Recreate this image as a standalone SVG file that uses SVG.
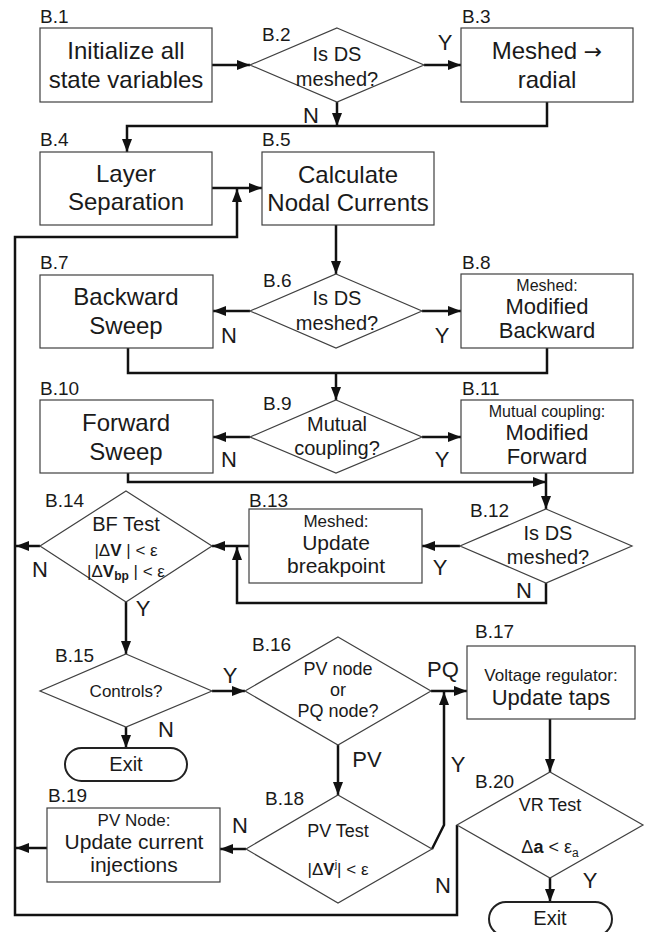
<svg xmlns="http://www.w3.org/2000/svg" width="646" height="932" viewBox="0 0 646 932">
<defs>
<marker id="ah" markerUnits="userSpaceOnUse" markerWidth="13" markerHeight="10" viewBox="0 0 13 10" refX="13" refY="5" orient="auto">
<path d="M0,0 L13,5 L0,10 z" fill="#111"/>
</marker>
</defs>
<style>
text{font-family:"Liberation Sans",Arial,sans-serif;fill:#1a1a1a}
.c{text-anchor:middle}
.box{fill:#fff;stroke:#404040;stroke-width:1.2}
.exit{fill:#fff;stroke:#222;stroke-width:2}
.lbl{font-size:19px}
.t24{font-size:24px}
.t22{font-size:22px}
.t21{font-size:21px}
.t20{font-size:20px}
.t18{font-size:18px}
.t17{font-size:17px}
.t16{font-size:16px}
.yn{font-size:22px}
.conn{fill:none;stroke:#111;stroke-width:2.5}
.arr{marker-end:url(#ah)}
.b{font-weight:bold}
</style>
<rect width="646" height="932" fill="#fff"/>

<g id="connectors">
<path class="conn arr" d="M212,65 H250"/>
<path class="conn arr" d="M424,65 H461"/>
<path class="conn arr" d="M337,102 V126"/>
<path class="conn arr" d="M547,102 V126 H127 V152"/>
<path class="conn arr" d="M212,188 H262"/>
<path class="conn arr" d="M457,825 V915 H15 V237 H237 V189"/>
<path class="conn arr" d="M336,225 V274"/>
<path class="conn arr" d="M250,311 H213"/>
<path class="conn arr" d="M422,311 H461"/>
<path class="conn" d="M128,348 V373 H547 V348"/>
<path class="conn arr" d="M336,373 V400"/>
<path class="conn arr" d="M250,437 H213"/>
<path class="conn arr" d="M422,437 H461"/>
<path class="conn arr" d="M128,473 V482 H546"/>
<path class="conn arr" d="M546,473 V509"/>
<path class="conn arr" d="M460,546 H422"/>
<path class="conn arr" d="M546,583 V603 H237 V547"/>
<path class="conn arr" d="M249,546 H212"/>
<path class="conn arr" d="M40,546 H16"/>
<path class="conn arr" d="M126,602 V654"/>
<path class="conn arr" d="M212,691 H245"/>
<path class="conn arr" d="M126,727 V748"/>
<path class="conn arr" d="M431,691 H467"/>
<path class="conn arr" d="M338,745 V795"/>
<path class="conn arr" d="M432,849 L444,825 V692"/>
<path class="conn arr" d="M246,849 H220"/>
<path class="conn arr" d="M47,848 H16"/>
<path class="conn arr" d="M550,719 V772"/>
<path class="conn arr" d="M550,878 V902"/>
</g>

<g id="B1">
<rect class="box" x="40" y="28" width="172" height="74"/>
<text class="lbl" x="40" y="23">B.1</text>
<text class="t24 c" x="126" y="59">Initialize all</text>
<text class="t24 c" x="126" y="88">state variables</text>
</g>
<g id="B2">
<polygon class="box" points="337,28 424,65 337,102 250,65"/>
<text class="lbl" x="262" y="41">B.2</text>
<text class="t20 c" x="337" y="61">Is DS</text>
<text class="t20 c" x="337" y="86">meshed?</text>
<text class="yn c" x="445" y="50">Y</text>
<text class="yn c" x="311" y="123">N</text>
</g>
<g id="B3">
<rect class="box" x="461" y="28" width="172" height="74"/>
<text class="lbl" x="462" y="23">B.3</text>
<text class="t24 c" x="547" y="59">Meshed <tspan font-family="DejaVu Sans" font-size="22">→</tspan></text>
<text class="t24 c" x="547" y="88">radial</text>
</g>
<g id="B4">
<rect class="box" x="40" y="152" width="172" height="73"/>
<text class="lbl" x="40" y="146">B.4</text>
<text class="t24 c" x="126" y="182">Layer</text>
<text class="t24 c" x="126" y="210">Separation</text>
</g>
<g id="B5">
<rect class="box" x="262" y="152" width="172" height="73"/>
<text class="lbl" x="262" y="146">B.5</text>
<text class="t24 c" x="348" y="183">Calculate</text>
<text class="t24 c" x="348" y="211">Nodal Currents</text>
</g>
<g id="B6">
<polygon class="box" points="336,274 422,311 336,348 250,311"/>
<text class="lbl" x="263" y="287">B.6</text>
<text class="t20 c" x="337" y="305">Is DS</text>
<text class="t20 c" x="337" y="330">meshed?</text>
<text class="yn c" x="229" y="343">N</text>
<text class="yn c" x="442" y="343">Y</text>
</g>
<g id="B7">
<rect class="box" x="40" y="275" width="173" height="73"/>
<text class="lbl" x="40" y="269">B.7</text>
<text class="t24 c" x="126" y="305">Backward</text>
<text class="t24 c" x="126" y="334">Sweep</text>
</g>
<g id="B8">
<rect class="box" x="461" y="274" width="172" height="74"/>
<text class="lbl" x="462" y="269">B.8</text>
<text class="t16 c" x="547" y="291">Meshed:</text>
<text class="t22 c" x="547" y="314">Modified</text>
<text class="t22 c" x="547" y="338">Backward</text>
</g>
<g id="B9">
<polygon class="box" points="336,400 422,437 336,473 250,437"/>
<text class="lbl" x="263" y="410">B.9</text>
<text class="t20 c" x="337" y="431">Mutual</text>
<text class="t20 c" x="337" y="455">coupling?</text>
<text class="yn c" x="229" y="467">N</text>
<text class="yn c" x="442" y="467">Y</text>
</g>
<g id="B10">
<rect class="box" x="40" y="400" width="173" height="73"/>
<text class="lbl" x="40" y="395">B.10</text>
<text class="t24 c" x="126" y="431">Forward</text>
<text class="t24 c" x="126" y="460">Sweep</text>
</g>
<g id="B11">
<rect class="box" x="461" y="400" width="172" height="73"/>
<text class="lbl" x="462" y="395">B.11</text>
<text class="t16 c" x="547" y="417">Mutual coupling:</text>
<text class="t22 c" x="547" y="440">Modified</text>
<text class="t22 c" x="547" y="464">Forward</text>
</g>
<g id="B12">
<polygon class="box" points="546,509 632,546 546,583 460,546"/>
<text class="lbl" x="470" y="517">B.12</text>
<text class="t20 c" x="548" y="540">Is DS</text>
<text class="t20 c" x="548" y="564">meshed?</text>
<text class="yn c" x="440" y="575">Y</text>
<text class="yn c" x="524" y="598">N</text>
</g>
<g id="B13">
<rect class="box" x="249" y="509" width="173" height="74"/>
<text class="lbl" x="249" y="507">B.13</text>
<text class="t17 c" x="336" y="527">Meshed:</text>
<text class="t21 c" x="336" y="550">Update</text>
<text class="t21 c" x="336" y="573">breakpoint</text>
</g>
<g id="B14">
<polygon class="box" points="126,491 212,546 126,602 40,546"/>
<text class="lbl" x="45" y="507">B.14</text>
<text class="t20 c" x="126" y="531">BF Test</text>
<text class="t17 c" x="126" y="556">|Δ<tspan class="b">V</tspan> | &lt; ε</text>
<text class="t17 c" x="126" y="577">|Δ<tspan class="b">V</tspan><tspan class="b" font-size="12" dy="3">bp</tspan><tspan dy="-3"> | &lt; ε</tspan></text>
<text class="yn c" x="40" y="577">N</text>
<text class="yn c" x="143" y="616">Y</text>
</g>
<g id="B15">
<polygon class="box" points="126,654 212,691 126,727 40,691"/>
<text class="lbl" x="55" y="662">B.15</text>
<text class="t17 c" x="126" y="697">Controls?</text>
<text class="yn c" x="230" y="683">Y</text>
<text class="yn c" x="166" y="737">N</text>
</g>
<g id="Exit1">
<rect class="exit" x="65" y="748" width="122" height="33" rx="16.5"/>
<text class="t20 c" x="126" y="771">Exit</text>
</g>
<g id="B16">
<polygon class="box" points="338,637 431,691 338,745 245,691"/>
<text class="lbl" x="252" y="651">B.16</text>
<text class="t18 c" x="338" y="675">PV node</text>
<text class="t18 c" x="338" y="696">or</text>
<text class="t18 c" x="338" y="717">PQ node?</text>
<text class="yn c" x="443" y="677" font-size="24">PQ</text>
<text class="yn c" x="367" y="767" font-size="24">PV</text>
</g>
<g id="B17">
<rect class="box" x="467" y="646" width="168" height="73"/>
<text class="lbl" x="475" y="638">B.17</text>
<text class="t17 c" x="551" y="681">Voltage regulator:</text>
<text class="t22 c" x="551" y="705">Update taps</text>
</g>
<g id="B18">
<polygon class="box" points="338,795 432,849 338,903 246,849"/>
<text class="lbl" x="265" y="805">B.18</text>
<text class="t18 c" x="338" y="837">PV Test</text>
<text class="t17 c" x="338" y="875">|Δ<tspan class="b">V</tspan><tspan font-size="11" dy="-7">j</tspan><tspan dy="7">| &lt; ε</tspan></text>
<text class="yn c" x="240" y="833">N</text>
<text class="yn c" x="458" y="772">Y</text>
</g>
<g id="B19">
<rect class="box" x="47" y="808" width="173" height="74"/>
<text class="lbl" x="48" y="802">B.19</text>
<text class="t17 c" x="134" y="826">PV Node:</text>
<text class="t21 c" x="134" y="849">Update current</text>
<text class="t21 c" x="134" y="872">injections</text>
</g>
<g id="B20">
<polygon class="box" points="550,772 643,825 550,878 457,825"/>
<text class="lbl" x="475" y="788">B.20</text>
<text class="t18 c" x="550" y="811">VR Test</text>
<text class="t18 c" x="550" y="853">Δ<tspan class="b">a</tspan> &lt; ε<tspan font-size="12" dy="4">a</tspan></text>
<text class="yn c" x="590" y="888">Y</text>
<text class="yn c" x="443" y="893">N</text>
</g>
<g id="Exit2">
<rect class="exit" x="489" y="902" width="123" height="34" rx="17"/>
<text class="t20 c" x="550" y="925">Exit</text>
</g>
</svg>
